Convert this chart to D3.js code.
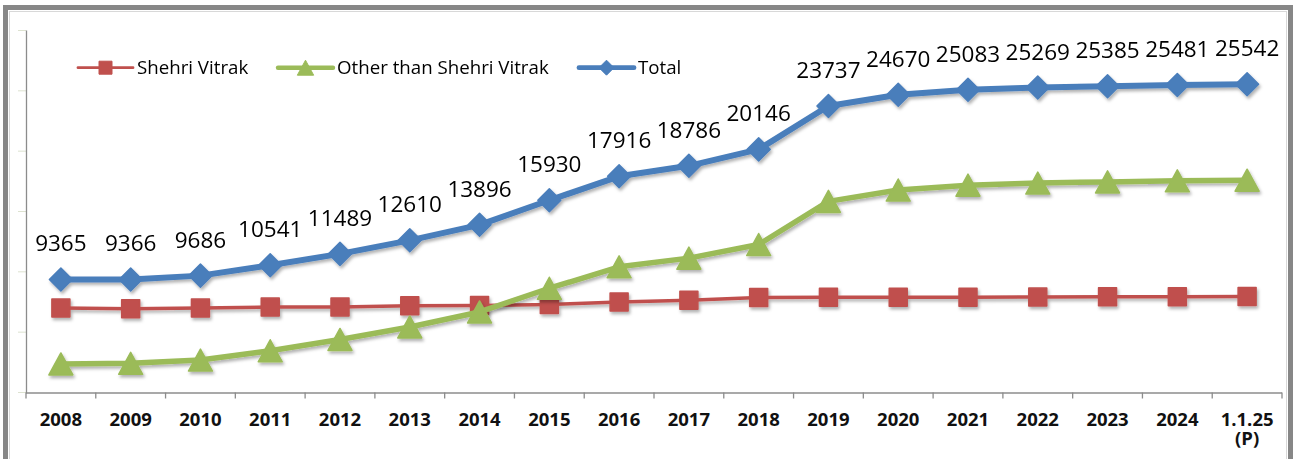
<!DOCTYPE html>
<html>
<head>
<meta charset="utf-8">
<script src="https://cdnjs.cloudflare.com/ajax/libs/d3/7.8.5/d3.min.js"></script>
<style>
  body { margin: 0; background: #fff; }
  svg { display: block; font-family: "Open Sans", sans-serif; }
</style>
</head>
<body>
<div id="d3-container"></div>
<script>
// categories (last one is provisional, shown on two lines)
const categories = ["2008", "2009", "2010", "2011", "2012", "2013", "2014", "2015", "2016",
    "2017", "2018", "2019", "2020", "2021", "2022", "2023", "2024", "1.1.25 (P)"];

// values (only the Total line is labelled)
const shehriVitrak = [7000, 6950, 7000, 7080, 7090, 7180, 7220, 7290, 7500,
    7650, 7880, 7900, 7890, 7900, 7910, 7930, 7940, 7950];
const otherThanShehri = [2365, 2416, 2686, 3461, 4399, 5430, 6676, 8640, 10416,
    11136, 12266, 15837, 16780, 17183, 17359, 17455, 17541, 17592];
const total = [9365, 9366, 9686, 10541, 11489, 12610, 13896, 15930, 17916,
    18786, 20146, 23737, 24670, 25083, 25269, 25385, 25481, 25542];

const seriesNames = ["Shehri Vitrak", "Other than Shehri Vitrak", "Total"];
const yTicks = [0, 5000, 10000, 15000, 20000, 25000, 30000];

const width = 1297;
const height = 459;

const series = [
    { name: seriesNames[0], values: shehriVitrak, color: "#c0504d", lw: 3.5, shape: "square", legendX: 78 },
    { name: seriesNames[1], values: otherThanShehri, color: "#9bbb59", lw: 5.5, shape: "triangle", legendX: 278 },
    { name: seriesNames[2], values: total, color: "#4a7ebb", lw: 6, shape: "diamond", legendX: 579 }
];

const svg = d3.select('#d3-container')
    .append('svg')
    .attr('width', width)
    .attr('height', height);

const defs = svg.append("defs");
defs.append("filter")
    .attr("id", "shadow")
    .attr("x", "-30%").attr("y", "-30%").attr("width", "160%").attr("height", "160%")
    .append("feDropShadow")
    .attr("dx", 1.5).attr("dy", 2.5)
    .attr("stdDeviation", 1.6)
    .attr("flood-color", "#000")
    .attr("flood-opacity", 0.3);

// outer frame
svg.append("rect")
    .attr("x", 5.5).attr("y", 7.5)
    .attr("width", 1285).attr("height", 458)
    .attr("fill", "none")
    .attr("stroke", "#878787")
    .attr("stroke-width", 5);
svg.append("rect")
    .attr("x", 9.5).attr("y", 11.5)
    .attr("width", 1277).attr("height", 450)
    .attr("fill", "none")
    .attr("stroke", "#d8d8d8")
    .attr("stroke-width", 1);

const x = d3.scaleBand()
    .domain(categories)
    .range([26, 1282]);

const y = d3.scaleLinear()
    .domain([0, 30000])
    .range([392.5, 30.5]);

// y axis: line + faint ticks, no labels
svg.append("g")
    .selectAll("line")
    .data(yTicks)
    .join("line")
    .attr("x1", 18).attr("x2", 26)
    .attr("y1", d => y(d)).attr("y2", d => y(d))
    .attr("stroke", "#dde2d0")
    .attr("stroke-width", 1);

svg.append("line")
    .attr("x1", 26.5).attr("x2", 26.5)
    .attr("y1", y(30000)).attr("y2", y(0) + 1)
    .attr("stroke", "#8c8c8c")
    .attr("stroke-width", 1.3);

// x axis: line + ticks on category boundaries
const xAxis = svg.append("g");
xAxis.append("line")
    .attr("x1", x.range()[0]).attr("x2", x.range()[1])
    .attr("y1", y(0) + 0.5).attr("y2", y(0) + 0.5)
    .attr("stroke", "#8c8c8c")
    .attr("stroke-width", 1.3);

xAxis.selectAll(".tick")
    .data(categories.concat(["end"]))
    .join("line")
    .attr("class", "tick")
    .attr("x1", (d, i) => i < categories.length ? x(d) : x.range()[1])
    .attr("x2", (d, i) => i < categories.length ? x(d) : x.range()[1])
    .attr("y1", y(0)).attr("y2", y(0) + 6)
    .attr("stroke", "#8c8c8c")
    .attr("stroke-width", 1.3);

const tickText = xAxis.selectAll(".lbl")
    .data(categories)
    .join("text")
    .attr("class", "lbl")
    .attr("text-anchor", "middle")
    .attr("font-size", "18.5px")
    .attr("font-weight", "bold")
    .attr("fill", "#111");

tickText.selectAll("tspan")
    .data(d => d.split(" ").map(t => ({ t, c: d })))
    .join("tspan")
    .attr("x", d => x(d.c) + x.bandwidth() / 2)
    .attr("y", (d, i) => 426 + i * 18.5)
    .text(d => d.t);

// marker shapes, centred on their bounding box like the original
function markerPath(shape, s) {
    if (shape === "square") {
        return `M${-s / 2},${-s / 2}h${s}v${s}h${-s}Z`;
    }
    if (shape === "triangle") {
        const w = s * 1.09, h = s;
        return `M0,${-h / 2}L${w / 2},${h / 2}L${-w / 2},${h / 2}Z`;
    }
    const r = s / 2;
    return `M0,${-r}L${r},0L0,${r}L${-r},0Z`;
}
const markerSize = { square: 18, triangle: 22, diamond: 23 };

const line = d3.line()
    .x((d, i) => x(categories[i]) + x.bandwidth() / 2)
    .y(d => y(d));

series.forEach(s => {
    const g = svg.append("g").attr("filter", "url(#shadow)");
    g.append("path")
        .datum(s.values)
        .attr("fill", "none")
        .attr("stroke", s.color)
        .attr("stroke-width", s.lw)
        .attr("stroke-linejoin", "round")
        .attr("d", line);

    g.selectAll("path.mk")
        .data(s.values)
        .join("path")
        .attr("class", "mk")
        .attr("transform", (d, i) => `translate(${x(categories[i]) + x.bandwidth() / 2},${y(d)})`)
        .attr("d", markerPath(s.shape, markerSize[s.shape]))
        .attr("fill", s.color)
        .attr("stroke", s.color)
        .attr("stroke-width", 1.5)
        .attr("stroke-linejoin", "round");
});

// data labels on the Total line
svg.append("g")
    .selectAll("text")
    .data(total)
    .join("text")
    .attr("x", (d, i) => x(categories[i]) + x.bandwidth() / 2)
    .attr("y", d => y(d) - 28)
    .attr("text-anchor", "middle")
    .attr("font-size", "22.5px")
    .attr("fill", "#000")
    .text(d => d);

// legend
const legend = svg.append("g")
    .selectAll("g")
    .data(series)
    .join("g")
    .attr("transform", d => `translate(${d.legendX},67.7)`);

legend.append("line")
    .attr("x1", 0).attr("x2", 55)
    .attr("stroke", d => d.color)
    .attr("stroke-width", d => d.lw * 0.8)
    .attr("stroke-linecap", "round");

legend.append("path")
    .attr("transform", "translate(27.5,0)")
    .attr("d", d => markerPath(d.shape, d.shape === "square" ? 13 : 15))
    .attr("fill", d => d.color)
    .attr("stroke", d => d.color)
    .attr("stroke-width", 1)
    .attr("stroke-linejoin", "round");

legend.append("text")
    .attr("x", 59)
    .attr("y", 6.7)
    .attr("font-size", "18.7px")
    .attr("fill", "#000")
    .text(d => d.name);

svg.node();
</script>
</body>
</html>
